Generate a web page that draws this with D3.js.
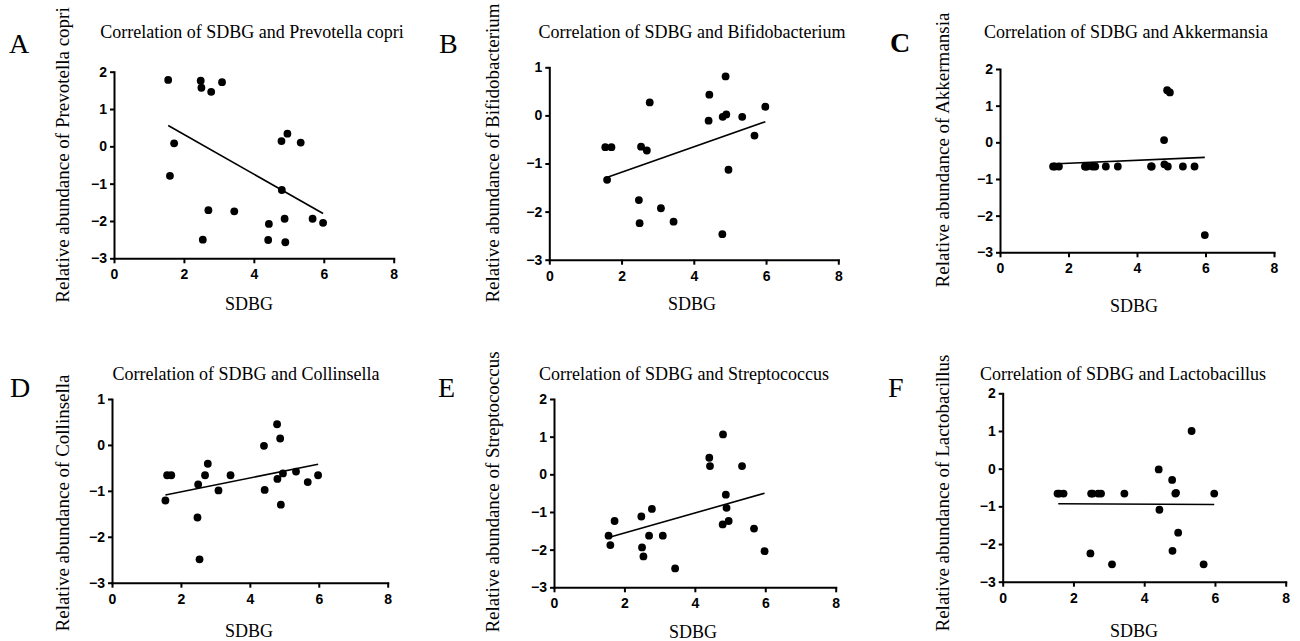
<!DOCTYPE html>
<html>
<head>
<meta charset="utf-8">
<script src="https://cdn.jsdelivr.net/npm/d3@7"></script>
<style>
  body { margin: 0; background: #fff; }
  svg { display: block; }
  .serif { font-family: "Liberation Serif", "Times New Roman", serif; fill: #000; }
</style>
</head>
<body>
<svg id="chart" width="1300" height="641"></svg>
<script>
// SDBG value of each sample (shared x for all panels)
var sdbg = [1.55, 1.60, 1.72, 2.48, 2.50, 2.54, 2.70, 2.78, 3.09, 3.44,
            4.41, 4.43, 4.79, 4.80, 4.88, 4.90, 4.96, 5.34, 5.68, 5.98];

// relative abundance per taxon, same sample order as sdbg
var prevotella = [1.78, -0.79, 0.08, 1.76, 1.57, -2.50, -1.71, 1.46, 1.72, -1.74,
                  -2.51, -2.08, 0.14, -1.17, -1.94, -2.57, 0.34, 0.10, -1.94, -2.05];
var bifido = [-0.66, -1.34, -0.66, -1.76, -2.24, -0.65, -0.73, 0.27, -1.93, -2.21,
              -0.11, 0.43, -2.47, -0.03, 0.81, 0.02, -1.13, -0.03, -0.42, 0.18];
var akkermansia = [-0.66, -0.66, -0.66, -0.66, -0.66, -0.66, -0.66, -0.66, -0.66, -0.66,
                   -0.66, -0.66, 0.06, -0.60, 1.42, -0.66, 1.36, -0.66, -0.66, -2.53];
var collinsella = [-1.21, -0.66, -0.66, -1.58, -0.86, -2.49, -0.66, -0.41, -0.99, -0.66,
                   -0.02, -0.98, 0.45, -0.74, 0.14, -1.30, -0.62, -0.58, -0.81, -0.66];
var strepto = [-1.63, -1.88, -1.24, -1.12, -1.94, -2.18, -1.63, -0.92, -1.63, -2.50,
               0.44, 0.22, -1.33, 1.06, -0.54, -0.89, -1.24, 0.22, -1.44, -2.04];
var lacto = [-0.66, -0.66, -0.66, -2.25, -0.66, -0.66, -0.66, -0.66, -2.54, -0.66,
             -0.02, -1.09, -0.30, -2.18, -0.66, -0.64, -1.70, 1.00, -2.54, -0.66];

// regression line end points [x, y]
var fitPrevotella = [[1.55, 0.56], [5.98, -1.80]];
var fitBifido = [[1.55, -1.30], [5.98, -0.13]];
var fitAkkermansia = [[1.50, -0.59], [5.98, -0.41]];
var fitCollinsella = [[1.55, -1.09], [5.98, -0.42]];
var fitStrepto = [[1.55, -1.68], [5.98, -0.50]];
var fitLacto = [[1.57, -0.93], [5.98, -0.95]];

var taxa = ["Prevotella copri", "Bifidobacterium", "Akkermansia", "Collinsella", "Streptococcus", "Lactobacillus"];
var letters = ["A", "B", "C", "D", "E", "F"];
var yMaxes = [2, 1, 2, 1, 2, 2];
var xTicks = [0, 2, 4, 6, 8];

var series = [prevotella, bifido, akkermansia, collinsella, strepto, lacto];
var fits = [fitPrevotella, fitBifido, fitAkkermansia, fitCollinsella, fitStrepto, fitLacto];

// where each panel sits on the page
var layout = [
  {x0: 114,   x8: 393.7,  yT: 71.7,  yB: 258.3, tx: 252,  ty: 38,  lx: 9,   ly: 53,  yl: 69,  ylc: 155, sx: 249,  sy: 310},
  {x0: 549.3, x8: 838.3,  yT: 67.3,  yB: 259.7, tx: 692,  ty: 38,  lx: 439, ly: 53,  yl: 499, ylc: 153, sx: 692,  sy: 310},
  {x0: 1000,  x8: 1274,   yT: 69,    yB: 252.3, tx: 1126, ty: 38,  lx: 890, ly: 52,  yl: 949, ylc: 150, sx: 1134, sy: 312},
  {x0: 112,   x8: 387.7,  yT: 399,   yB: 582.7, tx: 246,  ty: 380, lx: 10,  ly: 397, yl: 69,  ylc: 503, sx: 249,  sy: 637},
  {x0: 554,   x8: 835.7,  yT: 399,   yB: 587.3, tx: 684,  ty: 380, lx: 438, ly: 397, yl: 499, ylc: 492, sx: 693,  sy: 638},
  {x0: 1002.7,x8: 1285.7, yT: 393.3, yB: 581.7, tx: 1123, ty: 380, lx: 888, ly: 397, yl: 949, ylc: 493, sx: 1134, sy: 637}
];

var svg = d3.select("#chart");

taxa.forEach(function (name, i) {
  var L = layout[i];
  var g = svg.append("g");

  var x = d3.scaleLinear().domain([0, 8]).range([L.x0, L.x8]);
  var y = d3.scaleLinear().domain([-3, yMaxes[i]]).range([L.yB, L.yT]);

  // axes
  var xAxis = d3.axisBottom(x).tickValues(xTicks).tickSizeInner(5).tickSizeOuter(0).tickPadding(4);
  var yAxis = d3.axisLeft(y).ticks(yMaxes[i] + 3).tickSizeInner(4).tickSizeOuter(0).tickPadding(3);

  var gx = g.append("g").attr("transform", "translate(0," + L.yB + ")").call(xAxis);
  var gy = g.append("g").attr("transform", "translate(" + L.x0 + ",0)").call(yAxis);
  [gx, gy].forEach(function (ax) {
    ax.select(".domain").attr("stroke", "#000").attr("stroke-width", 2).attr("stroke-linecap", "square");
    ax.selectAll(".tick line").attr("stroke", "#000").attr("stroke-width", 2);
    ax.selectAll(".tick text")
      .attr("fill", "#000")
      .style("font-family", "'Liberation Sans', Arial, sans-serif")
      .style("font-size", "14px")
      .style("font-weight", "700");
  });
  gx.selectAll(".tick text").attr("dy", "0.85em");

  // points
  g.selectAll("circle").data(sdbg).enter().append("circle")
    .attr("cx", function (d) { return x(d); })
    .attr("cy", function (d, j) { return y(series[i][j]); })
    .attr("r", 3.9)
    .attr("fill", "#000");

  // fitted line
  g.append("path")
    .datum(fits[i])
    .attr("d", d3.line().x(function (d) { return x(d[0]); }).y(function (d) { return y(d[1]); }))
    .attr("fill", "none")
    .attr("stroke", "#000")
    .attr("stroke-width", 1.6);

  // texts
  g.append("text").attr("class", "serif")
    .attr("x", L.tx).attr("y", L.ty)
    .attr("text-anchor", "middle").attr("font-size", 18)
    .text("Correlation of SDBG and " + name);

  g.append("text").attr("class", "serif")
    .attr("x", L.lx).attr("y", L.ly)
    .attr("font-size", 28)
    .attr("font-weight", letters[i] == "C" ? "bold" : "normal")
    .text(letters[i]);

  g.append("text").attr("class", "serif")
    .attr("transform", "translate(" + L.yl + "," + L.ylc + ") rotate(-90)")
    .attr("text-anchor", "middle").attr("font-size", 19)
    .text("Relative abundance of " + name);

  g.append("text").attr("class", "serif")
    .attr("x", L.sx).attr("y", L.sy)
    .attr("text-anchor", "middle").attr("font-size", 18)
    .text("SDBG");
});
</script>
</body>
</html>
